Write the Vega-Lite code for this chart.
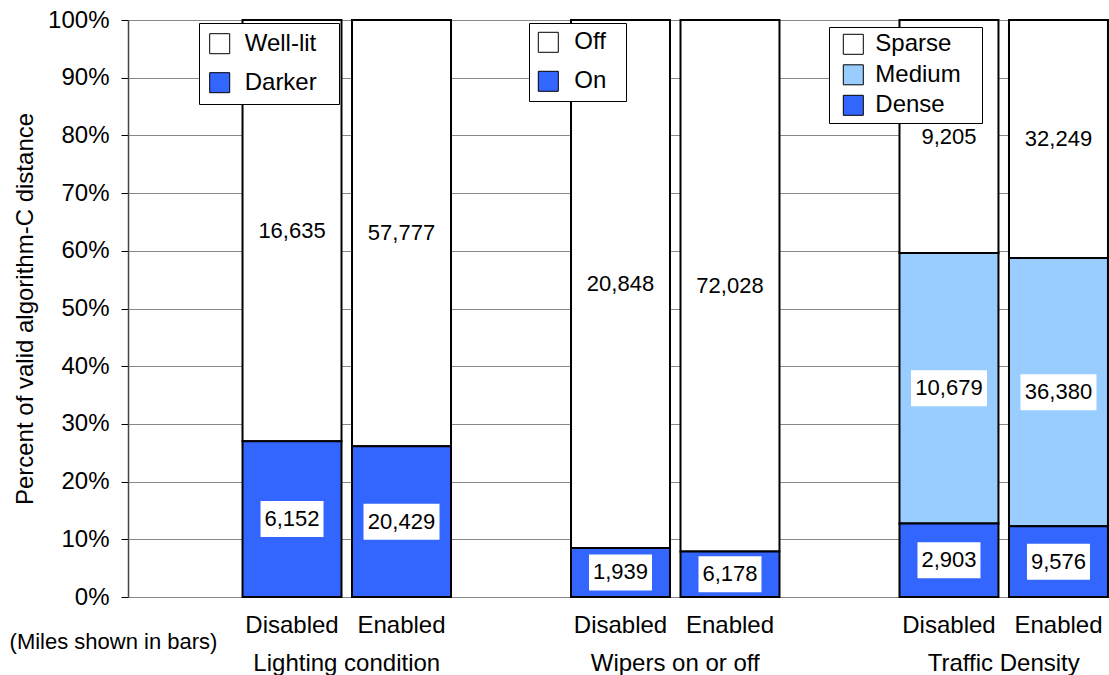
{
  "$schema": "https://vega.github.io/schema/vega-lite/v6.json",
  "width": 981,
  "height": 577,
  "autosize": {"type": "none"},
  "padding": {"left": 128, "top": 20, "right": 0, "bottom": 78},
  "background": "white",
  "config": {
    "font": "Liberation Sans",
    "view": {"stroke": null},
    "axis": {"labelColor": "black", "titleColor": "black", "labelFont": "Liberation Sans", "titleFont": "Liberation Sans"},
    "legend": {"labelFont": "Liberation Sans", "labelColor": "black"}
  },
  "data": {
    "values": [
      {"group": "Lighting condition", "setting": "Disabled", "bar": "Lighting condition|Disabled", "segment": "Well-lit", "level": 2, "miles": 16635},
      {"group": "Lighting condition", "setting": "Disabled", "bar": "Lighting condition|Disabled", "segment": "Darker", "level": 1, "miles": 6152},
      {"group": "Lighting condition", "setting": "Enabled", "bar": "Lighting condition|Enabled", "segment": "Well-lit", "level": 2, "miles": 57777},
      {"group": "Lighting condition", "setting": "Enabled", "bar": "Lighting condition|Enabled", "segment": "Darker", "level": 1, "miles": 20429},
      {"group": "Wipers on or off", "setting": "Disabled", "bar": "Wipers on or off|Disabled", "segment": "Off", "level": 2, "miles": 20848},
      {"group": "Wipers on or off", "setting": "Disabled", "bar": "Wipers on or off|Disabled", "segment": "On", "level": 1, "miles": 1939},
      {"group": "Wipers on or off", "setting": "Enabled", "bar": "Wipers on or off|Enabled", "segment": "Off", "level": 2, "miles": 72028},
      {"group": "Wipers on or off", "setting": "Enabled", "bar": "Wipers on or off|Enabled", "segment": "On", "level": 1, "miles": 6178},
      {"group": "Traffic Density", "setting": "Disabled", "bar": "Traffic Density|Disabled", "segment": "Sparse", "level": 3, "miles": 9205},
      {"group": "Traffic Density", "setting": "Disabled", "bar": "Traffic Density|Disabled", "segment": "Medium", "level": 2, "miles": 10679},
      {"group": "Traffic Density", "setting": "Disabled", "bar": "Traffic Density|Disabled", "segment": "Dense", "level": 1, "miles": 2903},
      {"group": "Traffic Density", "setting": "Enabled", "bar": "Traffic Density|Enabled", "segment": "Sparse", "level": 3, "miles": 32249},
      {"group": "Traffic Density", "setting": "Enabled", "bar": "Traffic Density|Enabled", "segment": "Medium", "level": 2, "miles": 36380},
      {"group": "Traffic Density", "setting": "Enabled", "bar": "Traffic Density|Enabled", "segment": "Dense", "level": 1, "miles": 9576}
    ]
  },
  "layer": [
    {
      "transform": [{"filter": "datum.group === 'Lighting condition'"}],
      "mark": {"type": "bar", "stroke": "black", "strokeWidth": 2},
      "encoding": {
        "x": {
          "field": "bar", "type": "nominal",
          "scale": {"domain": ["gap-a", "Lighting condition|Disabled", "Lighting condition|Enabled", "gap-b", "Wipers on or off|Disabled", "Wipers on or off|Enabled", "gap-c", "Traffic Density|Disabled", "Traffic Density|Enabled"], "range": [0, 985], "paddingInner": 0.096, "paddingOuter": 0.046},
          "axis": {
            "orient": "bottom",
            "values": ["Lighting condition|Disabled", "Lighting condition|Enabled", "Wipers on or off|Disabled", "Wipers on or off|Enabled", "Traffic Density|Disabled", "Traffic Density|Enabled"],
            "labelExpr": "split(datum.value, '|')[1]",
            "labelAngle": 0, "ticks": false, "tickSize": 0, "domain": false, "grid": false,
            "labelFontSize": 24, "labelPadding": 16, "labelLimit": 0,
            "title": "(Miles shown in bars)", "titleFontSize": 22, "titleFontWeight": "normal",
            "titleX": -15, "titleY": 51, "titleBaseline": "alphabetic", "titleAlign": "center", "titleLimit": 0
          }
        },
        "y": {
          "field": "miles", "type": "quantitative", "stack": "normalize",
          "title": "Percent of valid algorithm-C distance",
          "axis": {
            "values": [0, 0.1, 0.2, 0.3, 0.4, 0.5, 0.6, 0.7, 0.8, 0.9, 1],
            "format": ".0%", "grid": true, "gridColor": "#888888", "gridWidth": 1,
            "domainColor": "#444444", "domainWidth": 1.5, "tickColor": "black", "tickSize": 7,
            "labelFontSize": 24, "labelPadding": 12,
            "titleFontSize": 24, "titleFontWeight": "normal", "titlePadding": 10
          }
        },
        "color": {
          "field": "segment", "type": "nominal",
          "scale": {"domain": ["Well-lit", "Darker"], "range": ["#FFFFFF", "#3366FF"]},
          "legend": {
            "orient": "none", "legendX": 71, "legendY": 3, "title": null, "direction": "vertical",
            "fillColor": "white", "strokeColor": "black", "padding": 8.7,
            "symbolType": "square", "symbolSize": 400, "symbolStrokeColor": "black", "symbolStrokeWidth": 1,
            "labelFontSize": 24, "labelOffset": 13, "rowPadding": 15,
            "labelExpr": "datum.label + '\u00a0\u00a0\u200b'"
          }
        },
        "order": {"field": "level", "type": "quantitative"}
      }
    },
    {
      "transform": [{"filter": "datum.group === 'Wipers on or off'"}],
      "mark": {"type": "bar", "stroke": "black", "strokeWidth": 2},
      "encoding": {
        "x": {
          "field": "bar", "type": "nominal",
          "scale": {"domain": ["gap-a", "Lighting condition|Disabled", "Lighting condition|Enabled", "gap-b", "Wipers on or off|Disabled", "Wipers on or off|Enabled", "gap-c", "Traffic Density|Disabled", "Traffic Density|Enabled"], "range": [0, 985], "paddingInner": 0.096, "paddingOuter": 0.046},
          "axis": null
        },
        "y": {"field": "miles", "type": "quantitative", "stack": "normalize", "title": "Percent of valid algorithm-C distance"},
        "color": {
          "field": "segment", "type": "nominal",
          "scale": {"domain": ["Off", "On"], "range": ["#FFFFFF", "#3366FF"]},
          "legend": {
            "orient": "none", "legendX": 401, "legendY": 3, "title": null, "direction": "vertical",
            "fillColor": "white", "strokeColor": "black", "padding": 7.3,
            "symbolType": "square", "symbolSize": 400, "symbolStrokeColor": "black", "symbolStrokeWidth": 1,
            "labelFontSize": 24, "labelOffset": 14, "rowPadding": 15,
            "labelExpr": "datum.label + '\u00a0\u2009\u200b'"
          }
        },
        "order": {"field": "level", "type": "quantitative"}
      }
    },
    {
      "transform": [{"filter": "datum.group === 'Traffic Density'"}],
      "mark": {"type": "bar", "stroke": "black", "strokeWidth": 2},
      "encoding": {
        "x": {
          "field": "bar", "type": "nominal",
          "scale": {"domain": ["gap-a", "Lighting condition|Disabled", "Lighting condition|Enabled", "gap-b", "Wipers on or off|Disabled", "Wipers on or off|Enabled", "gap-c", "Traffic Density|Disabled", "Traffic Density|Enabled"], "range": [0, 985], "paddingInner": 0.096, "paddingOuter": 0.046},
          "axis": null
        },
        "y": {"field": "miles", "type": "quantitative", "stack": "normalize", "title": "Percent of valid algorithm-C distance"},
        "color": {
          "field": "segment", "type": "nominal",
          "scale": {"domain": ["Sparse", "Medium", "Dense"], "range": ["#FFFFFF", "#99CCFF", "#3366FF"]},
          "legend": {
            "orient": "none", "legendX": 701, "legendY": 7, "title": null, "direction": "vertical",
            "fillColor": "white", "strokeColor": "black", "padding": 5.3,
            "symbolType": "square", "symbolSize": 400, "symbolStrokeColor": "black", "symbolStrokeWidth": 1, "symbolOffset": 7,
            "labelFontSize": 24, "labelOffset": 10, "rowPadding": 6.5,
            "labelExpr": "datum.label + '\u00a0\u00a0\u200a\u200b'"
          }
        },
        "order": {"field": "level", "type": "quantitative"}
      }
    },
    {
      "mark": {"type": "point", "filled": true, "fill": "white", "stroke": null, "opacity": 1, "fillOpacity": 1},
      "encoding": {
        "x": {
          "field": "bar", "type": "nominal",
          "scale": {"domain": ["gap-a", "Lighting condition|Disabled", "Lighting condition|Enabled", "gap-b", "Wipers on or off|Disabled", "Wipers on or off|Enabled", "gap-c", "Traffic Density|Disabled", "Traffic Density|Enabled"], "range": [0, 985], "paddingInner": 0.096, "paddingOuter": 0.046},
          "axis": {
            "orient": "bottom",
            "values": ["Lighting condition|Enabled", "Wipers on or off|Enabled", "Traffic Density|Enabled"],
            "labelExpr": "split(datum.value, '|')[0]",
            "labelOffset": -54.75,
            "labelAngle": 0, "ticks": false, "tickSize": 0, "domain": false, "grid": false,
            "labelFontSize": 24, "labelPadding": 54, "labelLimit": 0, "title": null
          }
        },
        "y": {"field": "miles", "type": "quantitative", "stack": "normalize", "bandPosition": 0.5, "title": "Percent of valid algorithm-C distance"},
        "detail": {"field": "segment", "type": "nominal"},
        "order": {"field": "level", "type": "quantitative"},
        "shape": {"condition": {"test": "datum.miles >= 10000", "value": "M-1,-0.4737H1V0.4737H-1Z"}, "value": "M-1,-0.5714H1V0.5714H-1Z"},
        "size": {"condition": {"test": "datum.miles >= 10000", "value": 5776}, "value": 3969}
      }
    },
    {
      "mark": {"type": "text", "fontSize": 22, "color": "black", "baseline": "middle", "align": "center"},
      "encoding": {
        "x": {
          "field": "bar", "type": "nominal",
          "scale": {"domain": ["gap-a", "Lighting condition|Disabled", "Lighting condition|Enabled", "gap-b", "Wipers on or off|Disabled", "Wipers on or off|Enabled", "gap-c", "Traffic Density|Disabled", "Traffic Density|Enabled"], "range": [0, 985], "paddingInner": 0.096, "paddingOuter": 0.046},
          "axis": null
        },
        "y": {"field": "miles", "type": "quantitative", "stack": "normalize", "bandPosition": 0.5, "title": "Percent of valid algorithm-C distance"},
        "detail": {"field": "segment", "type": "nominal"},
        "order": {"field": "level", "type": "quantitative"},
        "text": {"field": "miles", "type": "quantitative", "format": ","}
      }
    }
  ],
  "resolve": {"scale": {"color": "independent"}, "axis": {"x": "independent"}}
}
